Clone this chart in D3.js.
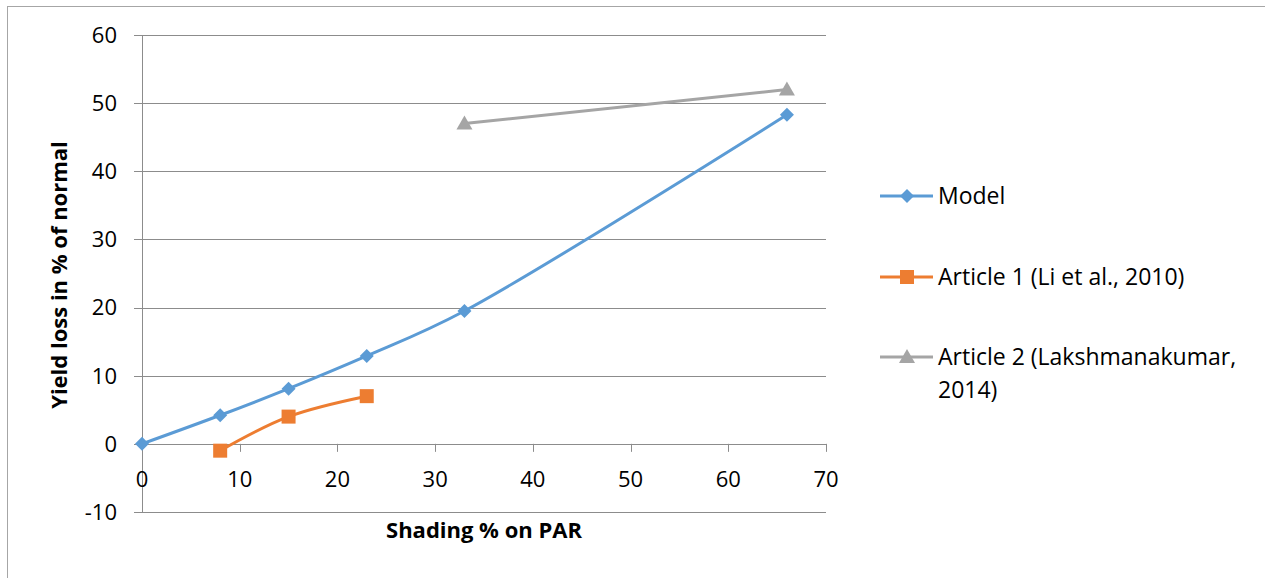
<!DOCTYPE html>
<html>
<head>
<meta charset="utf-8">
<script src="https://cdn.jsdelivr.net/npm/d3@7"></script>
<style>
  body { margin: 0; background: #fff; }
  svg { font-family: "Open Sans", sans-serif; }
</style>
</head>
<body>
<div id="chart"></div>
<script>
const xTicks = [0, 10, 20, 30, 40, 50, 60, 70];
const yTicks = [-10, 0, 10, 20, 30, 40, 50, 60];

const modelX = [0, 8, 15, 23, 33, 66];
const modelY = [0, 4.2, 8.1, 12.9, 19.5, 48.3];
const art1X = [8, 15, 23];
const art1Y = [-1, 4, 7];
const art2X = [33, 66];
const art2Y = [47, 52];

const series = [
  { name: 'Model', xs: modelX, ys: modelY, color: '#5B9BD5', marker: 'diamond' },
  { name: 'Article 1 (Li et al., 2010)', xs: art1X, ys: art1Y, color: '#ED7D31', marker: 'square' },
  { name: 'Article 2 (Lakshmanakumar, 2014)', xs: art2X, ys: art2Y, color: '#A5A5A5', marker: 'triangle' }
];

const W = 1265, H = 578;
const svg = d3.select('#chart').append('svg')
  .attr('width', W)
  .attr('height', H);

// outer frame
svg.append('rect')
  .attr('x', 7.5).attr('y', 6.5)
  .attr('width', W + 20).attr('height', H + 20)
  .attr('fill', 'none')
  .attr('stroke', '#a6a6a6');

const x = d3.scaleLinear().domain([0, 70]).range([142, 826]);
const y = d3.scaleLinear().domain([-10, 60]).range([512, 35]);

// gridlines
svg.append('g').selectAll('line').data(yTicks).join('line')
  .attr('x1', 134).attr('x2', 826)
  .attr('y1', d => Math.round(y(d)) + 0.5)
  .attr('y2', d => Math.round(y(d)) + 0.5)
  .attr('stroke', '#8c8c8c')
  .attr('stroke-width', 1);

// y axis line
svg.append('line')
  .attr('x1', Math.round(x(0)) + 0.5).attr('x2', Math.round(x(0)) + 0.5)
  .attr('y1', y(60)).attr('y2', y(-10))
  .attr('stroke', '#8c8c8c');

// x ticks at y=0
svg.append('g').selectAll('line').data(xTicks).join('line')
  .attr('x1', d => Math.round(x(d)) + 0.5)
  .attr('x2', d => Math.round(x(d)) + 0.5)
  .attr('y1', y(0)).attr('y2', y(0) + 8)
  .attr('stroke', '#8c8c8c');

// y tick labels
svg.append('g').selectAll('text').data(yTicks).join('text')
  .attr('x', 117)
  .attr('y', d => y(d))
  .attr('dy', '0.36em')
  .attr('text-anchor', 'end')
  .attr('font-size', 22)
  .attr('fill', '#000')
  .text(d => d);

// x tick labels
svg.append('g').selectAll('text').data(xTicks).join('text')
  .attr('x', d => x(d))
  .attr('y', y(0) + 43)
  .attr('text-anchor', 'middle')
  .attr('font-size', 22)
  .attr('fill', '#000')
  .text(d => d);

// axis titles
svg.append('text')
  .attr('x', 484).attr('y', 538)
  .attr('text-anchor', 'middle')
  .attr('font-size', 22)
  .attr('font-weight', 'bold')
  .text('Shading % on PAR');

svg.append('text')
  .attr('transform', 'translate(67,275) rotate(-90)')
  .attr('text-anchor', 'middle')
  .attr('font-size', 22)
  .attr('font-weight', 'bold')
  .text('Yield loss in % of normal');

const line = d3.line()
  .x(d => x(d[0]))
  .y(d => y(d[1]))
  .curve(d3.curveCatmullRom.alpha(0.5));

function drawMarker(g, type, color, cx, cy) {
  if (type === 'diamond') {
    g.append('path')
      .attr('d', `M${cx},${cy - 7}L${cx + 7},${cy}L${cx},${cy + 7}L${cx - 7},${cy}Z`)
      .attr('fill', color);
  } else if (type === 'square') {
    g.append('rect')
      .attr('x', cx - 7).attr('y', cy - 7)
      .attr('width', 14).attr('height', 14)
      .attr('fill', color);
  } else {
    g.append('path')
      .attr('d', `M${cx},${cy - 8}L${cx + 8},${cy + 6}L${cx - 8},${cy + 6}Z`)
      .attr('fill', color);
  }
}

series.forEach(s => {
  const pts = s.xs.map((v, i) => [v, s.ys[i]]);
  svg.append('path')
    .attr('d', line(pts))
    .attr('fill', 'none')
    .attr('stroke', s.color)
    .attr('stroke-width', 3)
    .attr('stroke-linejoin', 'round');
  const g = svg.append('g');
  pts.forEach(p => drawMarker(g, s.marker, s.color, x(p[0]), y(p[1])));
});

// legend
const legendY = [196, 277, 357];
series.forEach((s, i) => {
  const ly = legendY[i];
  svg.append('line')
    .attr('x1', 880).attr('x2', 933)
    .attr('y1', ly).attr('y2', ly)
    .attr('stroke', s.color)
    .attr('stroke-width', 3);
  const g = svg.append('g');
  drawMarker(g, s.marker, s.color, 907, ly);
});

svg.append('text').attr('x', 938).attr('y', legendY[0]).attr('dy', '0.36em')
  .attr('font-size', 23).text('Model');
svg.append('text').attr('x', 938).attr('y', legendY[1]).attr('dy', '0.36em')
  .attr('font-size', 23).text('Article 1 (Li et al., 2010)');
const t3 = svg.append('text').attr('x', 938).attr('y', legendY[2]).attr('dy', '0.36em')
  .attr('font-size', 23);
t3.append('tspan').attr('x', 938).text('Article 2 (Lakshmanakumar,');
t3.append('tspan').attr('x', 938).attr('dy', 33).text('2014)');
</script>
</body>
</html>
